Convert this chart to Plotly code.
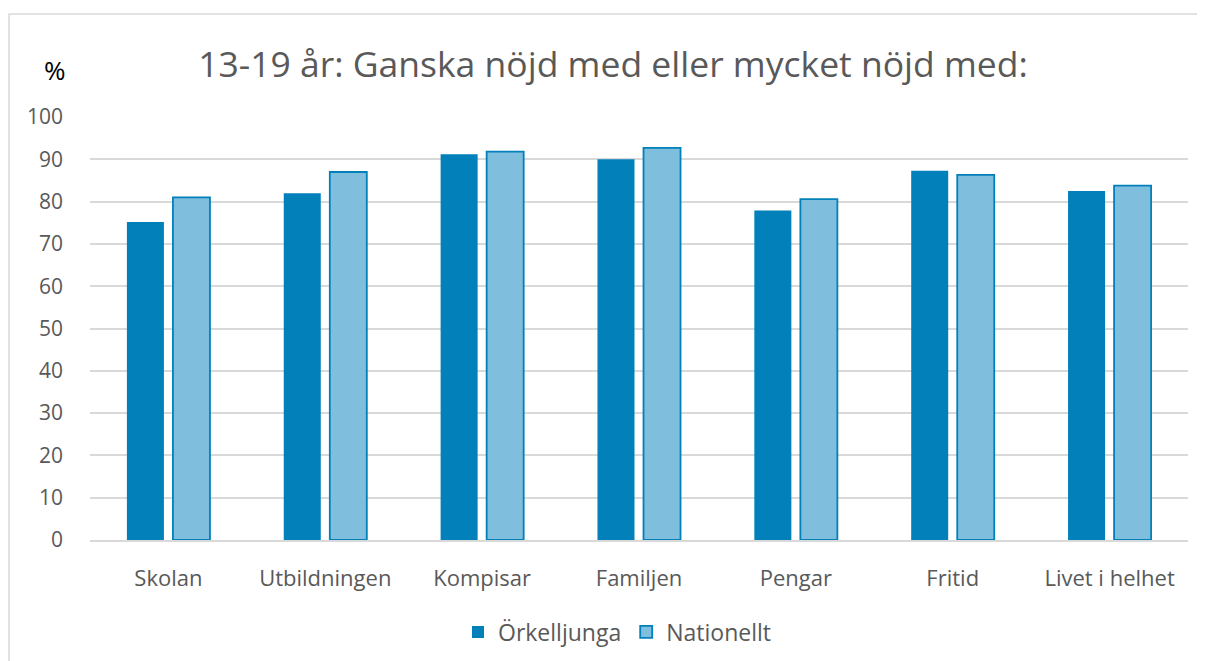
import plotly.graph_objects as go

categories = ["Skolan", "Utbildningen", "Kompisar", "Familjen", "Pengar", "Fritid", "Livet i helhet"]
orkelljunga = [75.2, 82.0, 91.2, 90.0, 77.9, 87.3, 82.5]
nationellt = [81.0, 87.0, 91.8, 92.7, 80.6, 86.3, 83.8]
y_ticks = list(range(0, 101, 10))

FONT = "Open Sans"
GREY = "#595959"

fig = go.Figure()
fig.add_trace(go.Bar(
    name="Örkelljunga", x=categories, y=orkelljunga,
    marker=dict(color="#0280BA", line=dict(color="#0280BA", width=0)),
))
fig.add_trace(go.Bar(
    name="Nationellt", x=categories, y=nationellt,
    marker=dict(color="#7FBEDC", line=dict(color="#0280BA", width=1.8)),
))

# page body has an 8px default margin, so the figure is offset by 8px
OFF = 8
W, H = 1205 - OFF, 661 - OFF
L, R, T, B = 90 - OFF, 1205 - 1188, 117 - OFF, 661 - 540
pw, ph = W - L - R, H - T - B

def px2x(px):
    return (px - OFF - L) / pw

def py2y(py):
    return (H - B - (py - OFF)) / ph

fig.update_layout(
    width=W, height=H,
    margin=dict(l=L, r=R, t=T, b=B),
    paper_bgcolor="white", plot_bgcolor="white",
    barmode="group", bargap=0.413, bargroupgap=0.196,
    font=dict(family=FONT, color=GREY),
    title=dict(
        text="13-19 år: Ganska nöjd med eller mycket nöjd med:",
        font=dict(family=FONT, size=35.5, color=GREY),
        x=px2x(613), xanchor="center", xref="paper",
        y=1 - (65 - OFF) / H, yanchor="middle", yref="container",
    ),
    xaxis=dict(
        showgrid=False, showline=True, linecolor="#D9D9D9", linewidth=1.5,
        tickfont=dict(size=22, color=GREY), ticks="", ticklabelstandoff=18,
    ),
    yaxis=dict(
        range=[0, 100], tickvals=y_ticks, showgrid=True, gridcolor="#D9D9D9",
        gridwidth=1.5, zeroline=False, showline=False,
        tickfont=dict(size=21, color=GREY), ticks="", ticklabelstandoff=26,
    ),
    legend=dict(
        orientation="h", x=px2x(617), xanchor="center", xref="paper",
        y=1 - (632 - OFF) / H, yanchor="middle", yref="container",
        font=dict(size=23, color=GREY), itemwidth=30, traceorder="normal",
    ),
    shapes=[dict(
        type="rect", xref="paper", yref="paper",
        x0=px2x(9), x1=px2x(1225), y0=py2y(14), y1=py2y(690),
        line=dict(color="#D9D9D9", width=1.5), fillcolor="rgba(0,0,0,0)", layer="below",
    )],
    annotations=[dict(
        text="%", xref="paper", yref="paper", x=px2x(55), y=py2y(70),
        xanchor="center", yanchor="middle", showarrow=False,
        font=dict(family=FONT, size=26, color="#000000"),
    )],
)

fig.write_html("out.html")
